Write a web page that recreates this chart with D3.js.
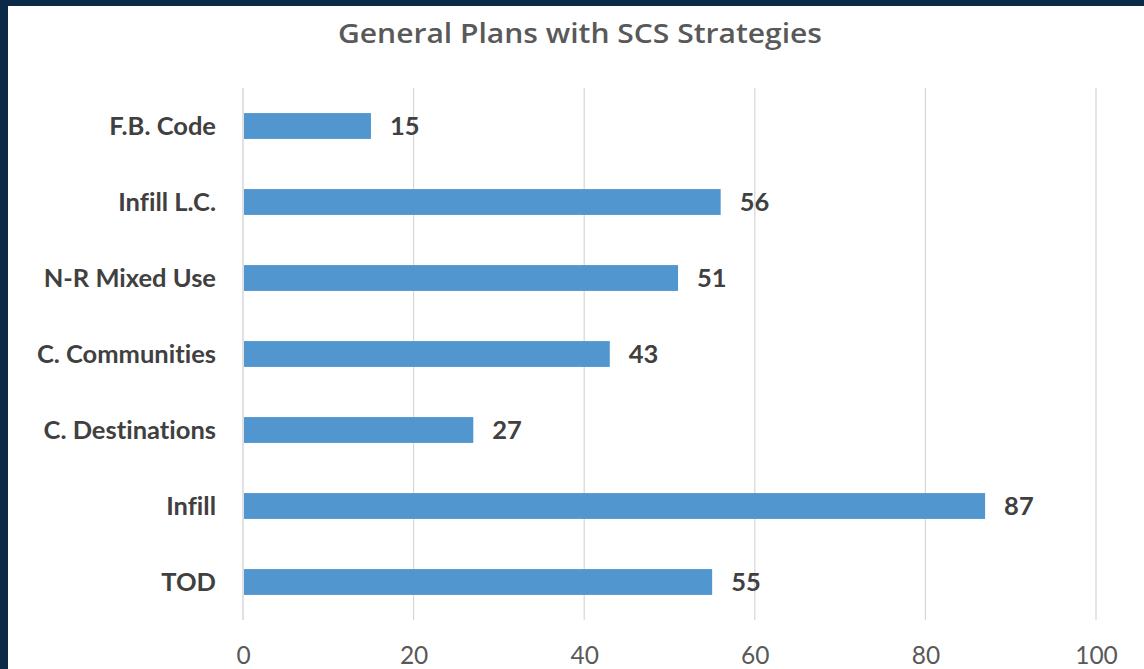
<!DOCTYPE html>
<html><head><meta charset="utf-8">
<script src="https://cdn.jsdelivr.net/npm/d3@7"></script>
<style>
html,body{margin:0;padding:0;background:#fff;}
svg{display:block;}
text{font-variant-ligatures:none;font-feature-settings:"liga" 0;}
</style></head>
<body>
<svg id="chart" width="1144" height="669"></svg>
<script>
const categories = ["F.B. Code","Infill L.C.","N-R Mixed Use","C. Communities","C. Destinations","Infill","TOD"];
const values = [15,56,51,43,27,87,55];
const tickValues = [0,20,40,60,80,100];
const title = "General Plans with SCS Strategies";

const svg = d3.select("#chart");
const W = 1144, H = 669;
const FONT = "Lato, 'Open Sans', sans-serif";
// dark frame
svg.append("rect").attr("x",0).attr("y",0).attr("width",W).attr("height",H).attr("fill","#0b2a48");
svg.append("rect").attr("x",8).attr("y",6).attr("width",W-8).attr("height",H-6).attr("fill","#ffffff");

const m = {left:243, right:1096, top:88, bottom:620};
const x = d3.scaleLinear().domain([0,100]).range([m.left,m.right]);
const y = d3.scaleBand().domain(categories).range([m.top,m.bottom]).paddingInner(0.66).paddingOuter(0.33);

// gridlines
svg.append("g").selectAll("line").data(tickValues).join("line")
  .attr("x1",d=>x(d)).attr("x2",d=>x(d)).attr("y1",m.top).attr("y2",m.bottom)
  .attr("stroke",d=>d===0?"#cfcfcf":"#d9d9d9").attr("stroke-width",1.3);

// x axis labels
const xAxis = d3.axisBottom(x).tickValues(tickValues).tickSize(0).tickPadding(0);
const gx = svg.append("g").attr("transform",`translate(0,664)`).call(xAxis);
gx.select(".domain").remove();
gx.selectAll("text").attr("font-family",FONT).attr("font-size",24.5)
  .attr("fill","#595959").attr("dy",0).attr("y",0);

// y axis labels
const yAxis = d3.axisLeft(y).tickSize(0).tickPadding(27);
const gy = svg.append("g").attr("transform",`translate(${m.left},0)`).call(yAxis);
gy.select(".domain").remove();
gy.selectAll("text").attr("font-family",FONT).attr("font-size",25.5)
  .attr("font-weight","bold").attr("fill","#404040").attr("dy","0.35em");

// bars
svg.append("g").selectAll("rect").data(values).join("rect")
  .attr("x",x(0)+1).attr("y",(d,i)=>y(categories[i]))
  .attr("width",d=>x(d)-x(0)-1).attr("height",y.bandwidth())
  .attr("fill","#5296d0");

// value labels
svg.append("g").selectAll("text").data(values).join("text")
  .attr("x",d=>x(d)+19).attr("y",(d,i)=>y(categories[i])+y.bandwidth()/2)
  .attr("dy","0.36em")
  .attr("font-family",FONT).attr("font-size",25.5)
  .attr("font-weight","bold").attr("fill","#404040")
  .text(d=>d);

// title
svg.append("text").attr("x",580).attr("y",43).attr("text-anchor","middle")
  .attr("font-family","'Open Sans', Lato, sans-serif").attr("font-size",27).attr("font-weight",600)
  .attr("textLength",484).attr("lengthAdjust","spacingAndGlyphs")
  .attr("fill","#595959").text(title);
</script>
</body></html>
